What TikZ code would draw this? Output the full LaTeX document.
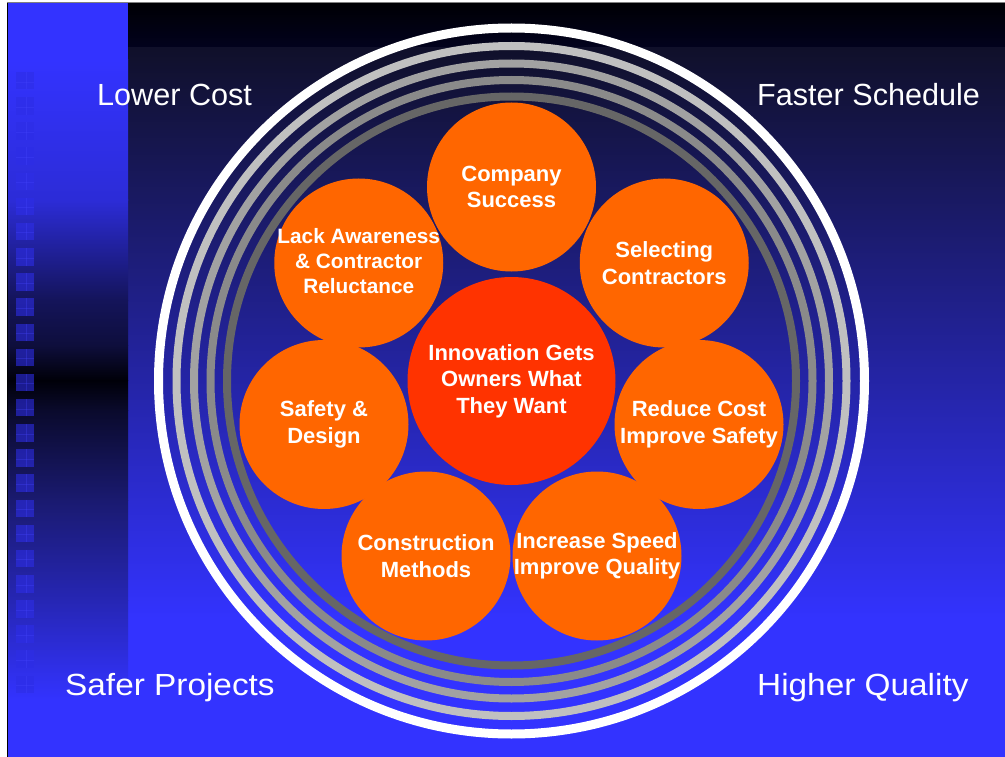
\documentclass[tikz,border=0pt]{standalone}
\usepackage{fontspec}
\setmainfont{Liberation Sans}
\definecolor{sA}{RGB}{51,51,255}
\definecolor{sB}{RGB}{44,44,215}
\definecolor{sC}{RGB}{20,20,90}
\definecolor{sD}{RGB}{14,14,60}
\definecolor{sE}{RGB}{0,0,8}
\definecolor{sF}{RGB}{10,10,44}
\definecolor{sG}{RGB}{26,26,112}
\definecolor{sH}{RGB}{38,38,180}
\definecolor{sI}{RGB}{46,46,225}
\definecolor{topA}{RGB}{0,0,4}
\definecolor{topB}{RGB}{2,2,30}
\definecolor{mainA}{RGB}{16,16,42}
\definecolor{mainB}{RGB}{51,51,255}
\definecolor{sq}{RGB}{45,45,230}
\definecolor{sqline}{RGB}{70,70,255}
\definecolor{ringA}{RGB}{192,192,192}
\definecolor{ringB}{RGB}{162,162,162}
\definecolor{ringC}{RGB}{138,138,138}
\definecolor{ringD}{RGB}{102,102,102}
\definecolor{orangeC}{RGB}{255,102,0}
\definecolor{redC}{RGB}{255,51,0}
\tikzset{
  bub/.style={circle, fill=orangeC, minimum size=169pt, inner sep=0pt},
  hub/.style={circle, fill=redC, minimum size=208pt, inner sep=0pt},
  lbl/.style={text=white, align=center, inner sep=0pt, font=\bfseries\fontsize{22}{26.5}\selectfont},
  lbls/.style={lbl, font=\bfseries\fontsize{20.8}{25}\selectfont},
  corner/.style={text=white, inner sep=0pt, font=\fontsize{30.6}{36}\selectfont},
  ring/.style={line width=8pt}
}
\begin{document}
\begin{tikzpicture}[x=1pt,y=-1pt]
\useasboundingbox (0,0) rectangle (1005,757);
\fill[white] (0,0) rectangle (1005,757);
% main background
\shade[top color=topA, bottom color=topB] (128,3) rectangle (1005,48.5);
\shade[top color=mainA, bottom color=mainB] (128,48) rectangle (1005,620.5);
\fill[mainB] (128,620) rectangle (1005,757);
% left strip
\fill[sA] (8,3) rectangle (128,60.5);
\foreach \ya/\ca/\yb/\cb in {60/sA/200/sB, 200/sB/300/sC, 300/sC/345/sD, 345/sD/380/sE, 380/sE/410/sF, 410/sF/500/sG, 500/sG/600/sH, 600/sH/660/sI, 660/sI/700/sA}
  \shade[top color=\ca, bottom color=\cb] (8,\ya) rectangle (128,\yb+0.5);
\fill[sA] (8,700) rectangle (128,757);
% strip squares
\foreach \k in {0,...,24}{
  \fill[sq, opacity=0.6] (16,{72+25.15*\k}) rectangle (34,{89.5+25.15*\k});
  \draw[sqline, opacity=0.3, line width=0.8pt] (26,{72+25.15*\k}) -- (26,{89.5+25.15*\k});
  \draw[sqline, opacity=0.3, line width=0.8pt] (16,{82+25.15*\k}) -- (34,{82+25.15*\k});
}
% frame lines
\draw[black, line width=1.2pt] (7.4,2) -- (7.4,757);
\draw[gray, line width=1pt] (7,2.2) -- (1005,2.2);
% rings
\coordinate (O) at (511.5,381);
\draw[white, line width=9pt] (O) circle[radius=353pt];
\draw[ring, ringA] (O) circle[radius=335pt];
\draw[ring, ringB] (O) circle[radius=317.5pt];
\draw[ring, ringC] (O) circle[radius=301pt];
\draw[ring, ringD] (O) circle[radius=284.5pt];
% corner labels
\node[corner, anchor=base west] (lc) at (97,106) {Lower Cost};
\node[corner, anchor=base west] (fs) at (757,106) {Faster Schedule};
\node[corner, anchor=base west] (sp) at (65,695) {\scalebox{1.09}[1]{Safer Projects}};
\node[corner, anchor=base west] (hq) at (757,695) {\scalebox{1.09}[1]{Higher Quality}};
% bubbles
\node[bub] (b1) at (511.5,187) {};
\node[bub] (b2) at (664.25,263) {};
\node[bub] (b3) at (699,424.5) {};
\node[bub] (b4) at (597,556) {};
\node[bub] (b5) at (426,556) {};
\node[bub] (b6) at (324,424.5) {};
\node[bub] (b7) at (358.75,263) {};
\node[hub] (h) at (511.5,381) {};
\node[lbl] (t1) at (b1) {Company\\Success};
\node[lbl] (t2) at (b2) {Selecting\\Contractors};
\node[lbl] (t3) at (b3) {Reduce Cost\\Improve Safety};
\node[lbl] (t4) at (b4) {Increase Speed\\Improve Quality};
\node[lbl] (t5) at (b5) {Construction\\Methods};
\node[lbl] (t6) at (b6) {Safety \&\\Design};
\node[lbls] (t7) at ([yshift=2pt]b7.center) {Lack Awareness\\\& Contractor\\Reluctance};
\node[lbl] (th) at (h) {Innovation Gets\\Owners What\\They Want};
\end{tikzpicture}
\end{document}
